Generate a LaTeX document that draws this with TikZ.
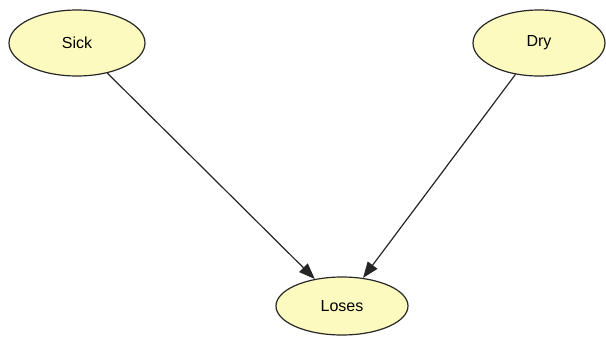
\documentclass[tikz,border=0pt]{standalone}
\usepackage{fontspec}
\setmainfont{Liberation Sans}
\usetikzlibrary{arrows.meta,shapes.geometric}
\definecolor{nodefill}{RGB}{252,250,190}
\definecolor{nodeline}{RGB}{40,40,40}
\begin{document}
\begin{tikzpicture}[x=1pt,y=-1pt,
  var/.style={ellipse, draw=nodeline, line width=1.2pt, fill=nodefill,
    minimum width=136pt, minimum height=66pt, inner sep=0pt,
    font=\fontsize{16}{18}\selectfont},
  link/.style={line width=1.2pt, draw=black!85,
    -{Triangle[length=16pt,width=12pt]}}]
  \useasboundingbox (0,0) rectangle (606,341);
  \node[var] (sick)  at (77,43)  {Sick};
  \node[var, minimum width=132pt] (dry) at (539,43) {Dry};
  \node[var, minimum width=132pt, minimum height=58pt] (loses) at (342,306) {Loses};
  \draw[link] (sick) -- (loses);
  \draw[link] (dry) -- (loses);
\end{tikzpicture}
\end{document}
